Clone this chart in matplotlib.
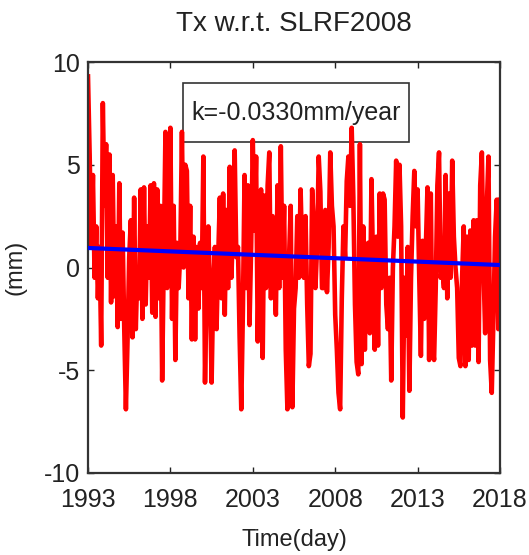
import numpy as np
import matplotlib
matplotlib.use('Agg')
import matplotlib.pyplot as plt
from matplotlib.patches import Rectangle

plt.rcParams['font.family'] = ['Liberation Sans', 'DejaVu Sans']
plt.rcParams['axes.unicode_minus'] = False

# Tx series, 10 samples per year 1993..2017 + end point
tx_1993_1997 = [9.3, 5.5, 1.0, 4.5, -0.5, 2.0, -1.5, 1.0, -3.8, 8.0,
                3.0, 6.0, -0.5, 5.5, -1.7, 4.5, -1.4, 2.0, -2.9, 4.1,
                -2.5, 1.7, -3.0, -6.9, -3.5, 0.5, 2.3, -3.4, 3.4, -3.0,
                0.0, -1.5, 3.8, -2.5, 3.9, -1.8, 2.0, -0.5, 4.0, -2.2,
                4.1, -2.4, 3.8, -1.5, 3.0, -5.5, 0.5, 6.6, -1.0, 2.0]
tx_1998_2002 = [6.8, -2.5, 3.0, -4.5, 1.2, -1.0, 0.7, 6.6, 0.0, 5.0,
                4.7, -1.5, 3.0, -3.5, 1.5, -3.5, 1.0, -2.0, 1.2, -1.0,
                5.4, -5.6, -1.0, 2.0, -1.0, -5.6, -1.0, 1.0, -3.0, 0.5,
                3.4, -1.5, 3.6, -2.3, 2.8, -1.0, 4.9, -0.5, 2.0, 5.7,
                0.5, 1.0, -3.4, -6.9, -2.0, 4.5, -1.0, 4.0, -2.8, 1.0]
tx_2003_2007 = [6.2, 1.8, 5.4, -3.6, 1.5, 3.8, -4.4, 3.5, -1.0, 4.0,
                5.6, -1.5, 2.5, -0.5, -2.3, 4.0, -1.0, 5.9, -0.5, 3.0,
                -4.0, -6.9, 0.5, 3.0, -6.8, -2.0, -1.0, 2.5, -0.5, 3.8,
                0.5, -0.5, 2.5, -1.8, -4.8, -4.2, 3.8, 2.0, -1.0, 1.0,
                5.4, 3.7, -1.0, -1.0, 2.8, -1.2, 1.0, 5.6, 3.0, 2.0]
tx_2008_2012 = [-2.3, -4.0, -6.1, -6.9, -1.5, 2.0, 0.5, 4.2, 5.4, 3.0,
                6.8, 3.4, -1.8, -4.6, -5.2, 6.0, -4.7, 2.0, -4.0, 1.0,
                1.2, -3.2, 4.3, 0.0, -4.0, 1.5, -3.8, 3.6, -1.0, 3.6,
                3.3, -1.8, -3.0, -0.5, -5.5, 0.0, 2.0, 5.2, 1.5, 5.0,
                2.0, -7.3, -0.5, -3.3, 1.0, -6.0, -0.5, 2.5, 4.7, 2.0]
tx_2013_2018 = [3.8, -0.5, -4.3, 1.3, -2.5, 1.0, 3.9, -4.5, 3.6, -3.8,
                -4.5, -1.0, 4.0, 5.6, -0.5, 0.0, -1.0, 4.5, -1.5, 3.6,
                -0.5, 5.2, 1.5, 0.0, -1.0, -4.4, -4.8, -0.5, 2.0, -4.8,
                1.5, -4.5, 1.8, -3.8, 2.3, -3.8, 2.3, -4.6, 4.0, 5.6,
                0.0, -3.2, 3.0, 5.4, -4.5, -6.1, -2.5, 1.5, 3.3, -3.0,
                3.3]
tx = np.array(tx_1993_1997 + tx_1998_2002 + tx_2003_2007 + tx_2008_2012 + tx_2013_2018)
t = np.linspace(1993, 2018, len(tx))

# linear trend as drawn (blue)
trend_years = [1993, 2018]
trend_mm = [0.95, 0.12]

xticks = [1993, 1998, 2003, 2008, 2013, 2018]
yticks = [-10, -5, 0, 5, 10]

fig = plt.figure(figsize=(5.29, 5.55), dpi=100)
ax = fig.add_axes([88/529, 82/555, 412/529, 411/555])

ax.plot(t, tx, color='red', lw=3.3, zorder=2)
ax.plot(trend_years, trend_mm, color='blue', lw=3.0, zorder=3)

ax.set_xlim(1993, 2018)
ax.set_ylim(-10, 10)
ax.set_xticks(xticks)
ax.set_yticks(yticks)
ax.tick_params(direction='in', length=4, width=1, top=True, right=True,
               labelsize=18, colors='#222222')
ax.tick_params(axis='x', pad=11)
ax.tick_params(axis='y', pad=6)
for s in ax.spines.values():
    s.set_linewidth(1.6)
    s.set_color('#333333')

ax.set_title('Tx w.r.t. SLRF2008', fontsize=20, pad=22, color='#222222')
ax.set_xlabel('Time(day)', fontsize=17, labelpad=12, color='#222222')
ax.set_ylabel('(mm)', fontsize=17, labelpad=12, color='#222222')

# the k= box, white, sits under the red line
ax.add_patch(Rectangle((0.231, 0.805), 0.548, 0.144, transform=ax.transAxes,
                       fc='white', ec='#333333', lw=1.2, zorder=1))
ax.text(0.505, 0.877, 'k=-0.0330mm/year', transform=ax.transAxes,
        ha='center', va='center', fontsize=18, color='#222222', zorder=1.5)

plt.savefig('out.png', dpi=100)
